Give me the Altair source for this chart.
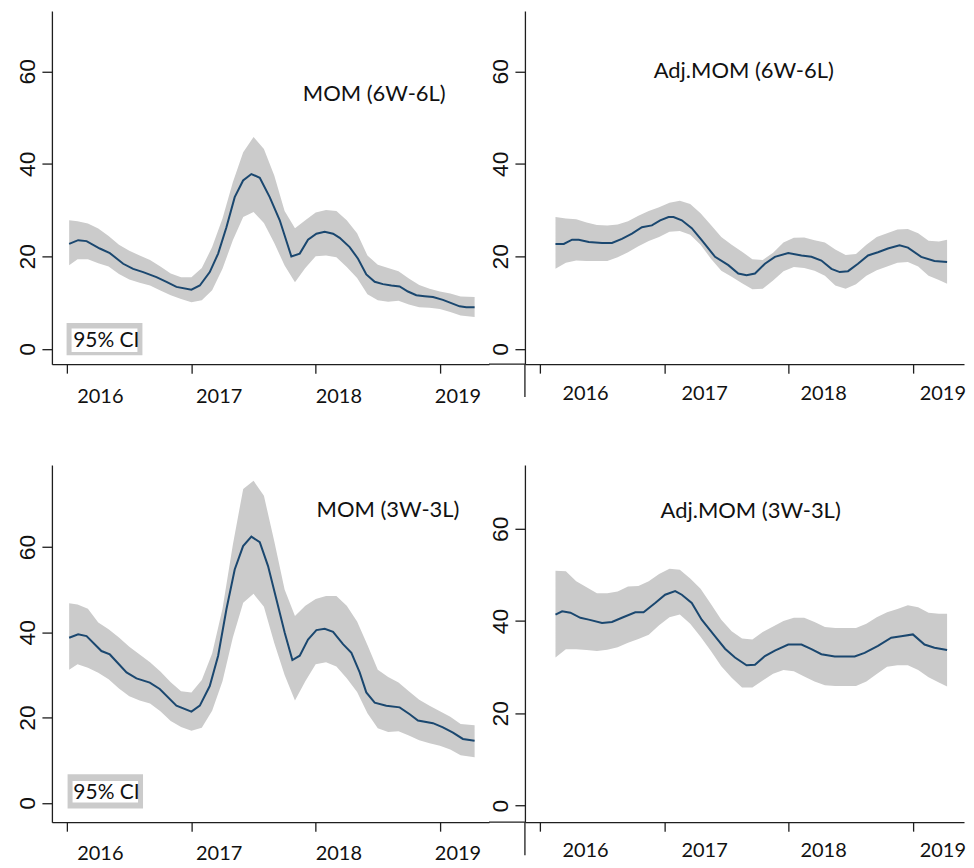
import altair as alt
import pandas as pd

YEAR_TICKS = [2016, 2017, 2018, 2019]
VALUE_TICKS = [0, 20, 40, 60]

LINE_COLOR = "#1a476f"
BAND_COLOR = "#cbcbcb"
AXIS_COLOR = "#1e1e1e"
TEXT_COLOR = "#111111"

# ---------------- MOM (6W-6L) : top left ----------------
TL_NAME = "MOM (6W-6L)"
TL_LINE_M = [0.19, 1.06, 1.87, 3.15, 4.12, 5.41, 6.37, 7.34, 8.62, 9.59, 10.55, 12.0, 12.81,
             13.77, 14.58, 15.38, 16.18, 16.99, 17.79, 18.6, 19.56, 20.53, 21.65, 22.46, 23.26,
             24.07, 24.87, 25.68, 26.32, 27.28, 28.09, 28.89, 29.7, 30.5, 31.31, 32.11, 32.91,
             33.72, 34.52, 35.33, 36.29, 37.1, 37.9, 38.55, 39.35]
TL_LINE_V = [22.7, 23.5, 23.3, 21.7, 20.7, 18.4, 17.3, 16.6, 15.5, 14.5, 13.4, 12.8, 13.7,
             16.6, 20.6, 26.3, 32.8, 36.4, 37.8, 37.0, 32.8, 27.8, 20.0, 20.6, 23.6,
             24.9, 25.3, 24.9, 24.0, 22.0, 19.5, 16.1, 14.5, 14.0, 13.7, 13.5, 12.4,
             11.6, 11.4, 11.2, 10.6, 9.9, 9.2, 9.0, 9.0]
TL_BAND_M = [0.19] + list(range(1, 39)) + [39.35]
TL_UPPER = [27.8, 27.6, 27.1, 26.0, 24.4, 22.5, 21.2, 20.2, 19.2, 17.8,
            16.3, 15.5, 15.5, 17.5, 22.0, 28.2, 36.0, 42.5, 45.8, 43.2,
            37.5, 29.8, 26.1, 27.8, 29.5, 30.0, 29.8, 27.8, 25.0, 20.2,
            18.2, 17.5, 16.8, 15.2, 13.8, 13.0, 12.4, 12.0, 11.3, 11.2]
TL_LOWER = [18.1, 19.4, 19.4, 18.5, 17.8, 16.2, 15.0, 14.3, 13.7, 12.6,
            11.6, 10.8, 10.1, 10.5, 12.7, 17.3, 23.5, 28.5, 29.6, 27.2,
            22.9, 18.0, 14.4, 17.5, 20.0, 20.2, 19.8, 17.7, 15.3, 11.8,
            10.5, 10.2, 10.4, 9.6, 9.0, 8.9, 8.6, 8.0, 7.2, 6.9]

# ---------------- Adj.MOM (6W-6L) : top right ----------------
TR_NAME = "Adj.MOM (6W-6L)"
TR_LINE_M = [1.51, 2.31, 3.11, 3.75, 4.72, 6.0, 6.96, 7.92, 8.89, 9.85, 10.81, 11.61, 12.42,
             12.9, 13.7, 14.66, 15.62, 16.91, 18.19, 19.15, 19.95, 20.76, 21.72, 22.68, 23.97,
             25.25, 26.21, 27.17, 28.14, 28.94, 29.74, 30.7, 31.67, 32.63, 33.59, 34.71, 35.52,
             36.8, 38.08, 39.3]
TR_LINE_V = [22.7, 22.7, 23.6, 23.6, 23.1, 22.9, 22.9, 23.8, 24.9, 26.3, 26.7, 27.8, 28.5,
             28.5, 27.8, 26.1, 23.5, 19.9, 18.1, 16.3, 15.9, 16.3, 18.4, 19.9, 20.7,
             20.2, 19.9, 19.1, 17.3, 16.6, 16.8, 18.4, 20.2, 20.9, 21.7, 22.4, 21.9,
             19.9, 19.0, 18.8]
TR_BAND_M = [1.51 + i for i in range(38)] + [39.3]
TR_UPPER = [28.5, 28.2, 28.0, 27.3, 26.8, 26.7, 26.9, 27.6, 28.8, 29.8,
            30.6, 31.6, 32.0, 31.3, 29.3, 26.8, 24.2, 22.5, 21.0, 19.4,
            19.2, 20.8, 23.0, 24.0, 24.1, 23.5, 23.0, 21.5, 20.3, 20.5,
            22.5, 24.2, 25.0, 25.8, 25.9, 25.0, 23.4, 23.2, 23.6]
TR_LOWER = [17.3, 18.6, 19.1, 19.0, 19.0, 19.0, 19.8, 20.9, 22.2, 23.3,
            24.2, 25.3, 25.5, 24.7, 22.5, 19.5, 16.9, 15.6, 14.2, 12.9,
            13.0, 14.8, 16.8, 17.7, 17.5, 16.9, 15.8, 13.7, 13.0, 14.0,
            15.8, 17.0, 17.8, 18.6, 18.8, 17.8, 15.8, 14.9, 14.1]

# ---------------- MOM (3W-3L) : bottom left ----------------
BL_NAME = "MOM (3W-3L)"
BL_LINE_M = [0.19, 1.06, 1.87, 3.31, 4.12, 5.73, 6.69, 7.98, 8.94, 10.55, 12.0, 12.81, 13.77,
             14.58, 15.38, 16.18, 16.99, 17.79, 18.6, 19.4, 20.21, 21.01, 21.75, 22.46, 23.26,
             24.07, 24.87, 25.68, 26.64, 27.45, 28.25, 28.89, 29.7, 30.82, 32.11, 33.08, 33.88,
             35.33, 36.29, 37.26, 38.22, 39.35]
BL_LINE_V = [38.7, 39.5, 39.1, 35.6, 34.8, 30.6, 29.2, 28.2, 26.7, 22.8, 21.4, 22.8, 27.4,
             34.5, 45.4, 54.7, 60.2, 62.4, 61.1, 55.5, 47.7, 39.9, 33.5, 34.5, 38.3,
             40.5, 40.8, 40.1, 37.2, 35.2, 30.6, 25.9, 23.5, 22.8, 22.4, 20.8, 19.3,
             18.7, 17.7, 16.5, 15.0, 14.6]
BL_BAND_M = [0.19] + list(range(1, 39)) + [39.35]
BL_UPPER = [46.8, 46.5, 45.5, 42.3, 40.7, 38.8, 36.6, 34.8, 33.0, 30.8,
            28.3, 26.2, 25.9, 28.8, 35.0, 45.5, 60.5, 73.6, 75.5, 72.0,
            61.3, 50.0, 43.8, 46.2, 47.8, 48.5, 48.5, 46.2, 42.5, 37.0,
            31.2, 29.5, 28.2, 26.2, 24.2, 22.8, 21.5, 20.2, 18.5, 18.2]
BL_LOWER = [31.2, 32.5, 31.7, 30.5, 29.0, 26.8, 25.0, 24.0, 23.3, 21.5,
            19.2, 17.8, 16.9, 17.6, 21.6, 28.5, 38.8, 46.9, 49.0, 46.0,
            37.5, 30.0, 24.0, 28.5, 32.5, 33.0, 32.0, 29.2, 26.0, 21.0,
            17.5, 16.6, 16.8, 15.8, 14.7, 14.0, 13.4, 12.5, 11.2, 10.7]

# ---------------- Adj.MOM (3W-3L) : bottom right ----------------
BR_NAME = "Adj.MOM (3W-3L)"
BR_LINE_M = [1.51, 2.15, 2.95, 3.91, 4.72, 6.0, 6.96, 7.92, 9.21, 10.01, 11.13, 12.09, 13.06,
             13.7, 14.66, 15.62, 16.91, 17.87, 18.83, 19.95, 20.76, 21.72, 22.68, 23.97,
             25.25, 26.21, 27.17, 28.46, 30.38, 31.34, 32.63, 33.91, 34.87, 36.0, 37.12,
             38.08, 39.3]
BR_LINE_V = [41.4, 42.1, 41.8, 40.7, 40.3, 39.6, 39.8, 40.7, 41.9, 41.9, 43.9, 45.7, 46.5,
             45.7, 43.9, 40.3, 36.7, 34.0, 32.1, 30.4, 30.5, 32.4, 33.6, 34.9,
             34.9, 33.9, 32.8, 32.3, 32.3, 33.1, 34.6, 36.4, 36.7, 37.1, 34.9,
             34.2, 33.7]
BR_BAND_M = [1.51 + i for i in range(38)] + [39.3]
BR_UPPER = [50.9, 50.8, 48.6, 47.3, 46.0, 46.0, 46.4, 47.5, 47.6, 48.6,
            50.2, 51.3, 51.1, 49.2, 47.0, 43.7, 40.3, 37.8, 36.2, 36.0,
            37.6, 38.8, 40.0, 40.7, 40.7, 39.8, 38.7, 38.5, 38.5, 38.5,
            39.4, 40.8, 41.9, 42.6, 43.4, 43.0, 41.8, 41.6, 41.6]
BR_LOWER = [32.1, 33.9, 33.9, 33.7, 33.5, 33.8, 34.3, 35.3, 36.1, 37.0,
            39.1, 40.8, 41.4, 39.4, 36.6, 33.5, 30.2, 27.7, 25.6, 25.6,
            27.1, 28.6, 29.4, 29.1, 28.0, 26.9, 26.1, 25.9, 25.9, 25.9,
            26.9, 28.5, 30.1, 30.4, 30.4, 29.4, 27.8, 26.7, 25.8]

CI_LABEL = "95% CI"


def months_to_years(months):
    return [2016 + m / 12 for m in months]


def x_axis(offsets, pad):
    conds = [{"test": f"datum.value === {yr}", "value": off}
             for yr, off in zip(YEAR_TICKS[:-1], offsets[:-1])]
    return alt.Axis(values=YEAR_TICKS, format="d", title=None, grid=False,
                    tickSize=9, tickWidth=1.3, tickColor=AXIS_COLOR,
                    domainColor=AXIS_COLOR, domainWidth=1.3,
                    labelFont="Lato", labelFontSize=20, labelColor=TEXT_COLOR,
                    labelAlign="center", labelBaseline="top", labelPadding=pad,
                    labelFlush=False, labelOverlap=False,
                    labelOffset={"condition": conds, "value": offsets[-1]})


def y_axis():
    return alt.Axis(values=VALUE_TICKS, title=None, grid=False,
                    tickSize=10, tickWidth=1.3, tickColor=AXIS_COLOR,
                    domainColor=AXIS_COLOR, domainWidth=1.3,
                    labelFont="Liberation Sans", labelFontSize=23, labelColor=TEXT_COLOR,
                    labelAngle=270, labelAlign="center", labelBaseline="alphabetic",
                    labelPadding=7, labelFlush=False, labelOverlap=False)


def panel(name, line_m, line_v, band_m, upper, lower, xdom, ydom, w, h,
          offsets, pad, title_xy, ci_box=None, ext=False):
    line_df = pd.DataFrame({"t": months_to_years(line_m), "v": line_v})
    band_df = pd.DataFrame({"t": months_to_years(band_m), "upper": upper, "lower": lower})
    xs = alt.Scale(domain=xdom, nice=False, zero=False)
    ys = alt.Scale(domain=ydom, nice=False, zero=False)
    xenc = alt.X("t:Q", scale=xs, axis=x_axis(offsets, pad))
    band = alt.Chart(band_df).mark_area(color=BAND_COLOR, opacity=1).encode(
        x=xenc, y=alt.Y("upper:Q", scale=ys, axis=y_axis()), y2="lower:Q")
    line = alt.Chart(line_df).mark_line(color=LINE_COLOR, strokeWidth=2).encode(
        x=xenc, y=alt.Y("v:Q", scale=ys, axis=y_axis()))
    title = alt.Chart(pd.DataFrame({"name": [name]})).mark_text(
        font="Lato", fontSize=22, color=TEXT_COLOR, align="center", baseline="alphabetic"
    ).encode(x=alt.value(title_xy[0]), y=alt.value(title_xy[1]), text="name:N")
    layers = [band, line, title]
    if ci_box is not None:
        (ox1, oy1, ox2, oy2), (ix1, iy1, ix2, iy2), (tx, ty) = ci_box
        ci_df = pd.DataFrame({"label": [CI_LABEL]})
        layers.append(alt.Chart(ci_df).mark_rect(color=BAND_COLOR).encode(
            x=alt.value(ox1), x2=alt.value(ox2), y=alt.value(oy1), y2=alt.value(oy2)))
        layers.append(alt.Chart(ci_df).mark_rect(color="white").encode(
            x=alt.value(ix1), x2=alt.value(ix2), y=alt.value(iy1), y2=alt.value(iy2)))
        layers.append(alt.Chart(ci_df).mark_text(
            font="Lato", fontSize=21, color=TEXT_COLOR, align="left", baseline="alphabetic"
        ).encode(x=alt.value(tx), y=alt.value(ty), text="label:N"))
    if ext:
        one = pd.DataFrame({"k": [0]})
        layers.append(alt.Chart(one).mark_rule(color=AXIS_COLOR, strokeWidth=1.3).encode(
            x=alt.value(-36), x2=alt.value(0), y=alt.value(h)))
        layers.append(alt.Chart(one).mark_rule(color=AXIS_COLOR, strokeWidth=1.3).encode(
            x=alt.value(0), y=alt.value(h), y2=alt.value(h + 33)))
    return alt.layer(*layers).properties(width=w, height=h)


TL = panel(TL_NAME, TL_LINE_M, TL_LINE_V, TL_BAND_M, TL_UPPER, TL_LOWER,
           [2015.877, 2019.395], [-3.30, 73.07], 438, 354,
           [32.7, 27.3, 22.7, 17.6], 13, (323, 90.7),
           ci_box=((14.7, 312.7, 90.7, 345), (19.7, 318.3, 85.7, 341.7), (21.3, 337.3)))
TR = panel(TR_NAME, TR_LINE_M, TR_LINE_V, TR_BAND_M, TR_UPPER, TR_LOWER,
           [2015.880, 2019.411], [-3.30, 73.07], 440, 354,
           [45.3, 40.0, 34.6, 29.5], 10, (219.3, 67.3), ext=True)
BL = panel(BL_NAME, BL_LINE_M, BL_LINE_V, BL_BAND_M, BL_UPPER, BL_LOWER,
           [2015.877, 2019.395], [-4.51, 79.21], 438, 358,
           [32.7, 27.3, 22.7, 17.6], 12.6, (336.8, 52.3),
           ci_box=((15.7, 310, 91.3, 344.3), (20.7, 316.7, 86.3, 338.3), (21.5, 335)))
BR = panel(BR_NAME, BR_LINE_M, BR_LINE_V, BR_BAND_M, BR_UPPER, BR_LOWER,
           [2015.880, 2019.411], [-3.59, 73.82], 440, 358,
           [45.3, 40.0, 34.6, 29.5], 9.7, (226.2, 53.3), ext=True)

chart = alt.concat(TL, TR, BL, BR, columns=2,
                   spacing={"row": 101, "column": 36},
                   bounds="flush", align="each").properties(
    padding={"left": 8, "top": 2, "right": 0, "bottom": 0},
    background="white",
).configure_view(stroke=None)

chart.save("out.html", embed_options={"renderer": "svg", "actions": False})
